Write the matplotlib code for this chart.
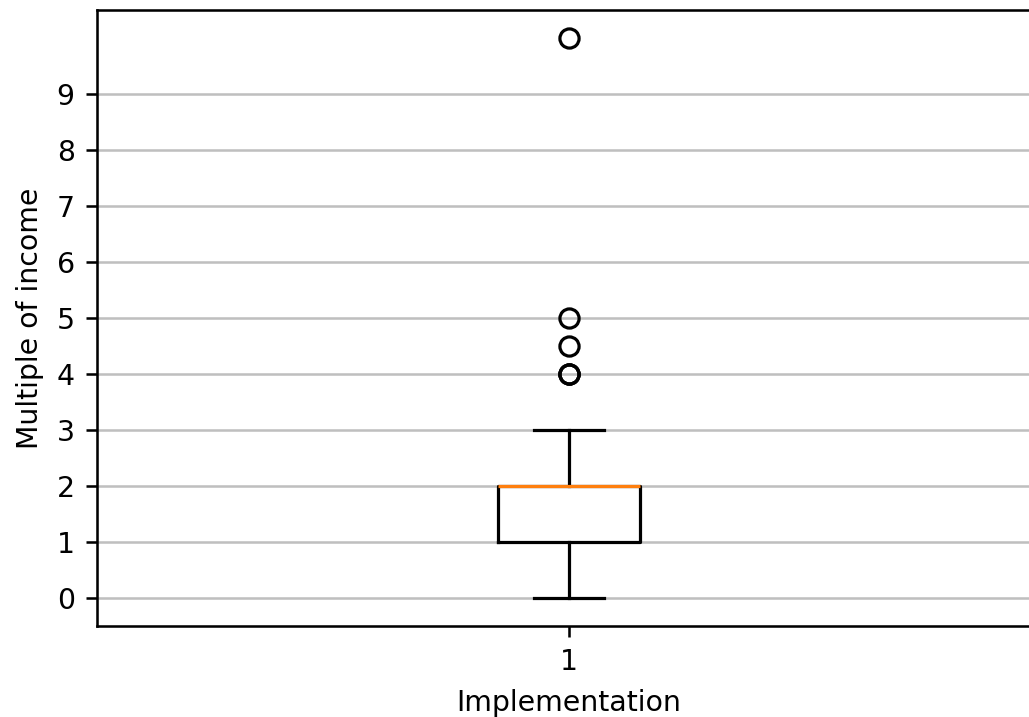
import numpy as np
import matplotlib
matplotlib.use("Agg")
import matplotlib.pyplot as plt

# -------------------------- Data --------------------------
# multiples of income (box 1-2, median 2, whiskers 0-3)
values = [0, 0] + [1] * 10 + [1.5] * 2 + [2] * 12 + [3] * 2 + [4] * 3 + [4.5, 5, 10]
yticks = list(range(10))
xlabel = "Implementation"
ylabel = "Multiple of income"

# -------------------------- Plot --------------------------
plt.rcParams["font.size"] = 8.9
fig = plt.figure(figsize=(1029 / 230, 717 / 230), dpi=230)
ax = fig.add_axes([0.0943, 0.1269, 0.9174, 0.859])

ax.boxplot(values)
ax.set_yticks(yticks)
ax.set_xlabel(xlabel)
ax.set_ylabel(ylabel)
ax.yaxis.grid(True, color="#bfbfbf")
ax.set_axisbelow(True)

fig.savefig("out.png", dpi=230)
